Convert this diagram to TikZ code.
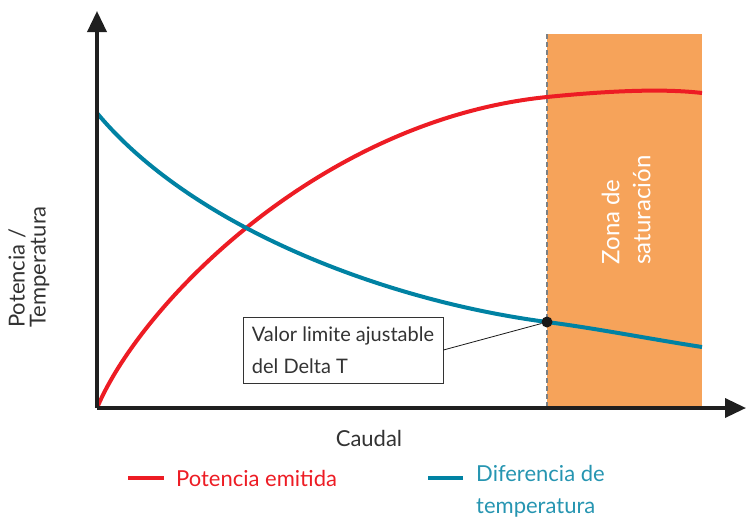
\documentclass[tikz,border=0pt]{standalone}
\usepackage{fontspec}
\setmainfont{Lato}
\usetikzlibrary{arrows.meta}
\definecolor{redcurve}{HTML}{ED1C24}
\definecolor{bluecurve}{HTML}{0082A3}
\definecolor{zonefill}{HTML}{F6A35A}
\definecolor{dashgray}{HTML}{7B8084}
\definecolor{textgray}{HTML}{333333}
\begin{document}
\begin{tikzpicture}[
  x=1pt, y=-1pt,
  axis/.style={line width=3.5pt,draw=black!88,-{Triangle[length=21pt,width=19pt]}},
  curve/.style={line width=4pt},
  txt/.style={text=textgray,inner sep=0pt,font=\fontsize{22}{32}\selectfont},
  box/.style={draw=textgray,line width=0.8pt,fill=white,align=left,inner sep=8pt,
    minimum width=200pt,minimum height=66pt,text=textgray,font=\fontsize{20}{32}\selectfont},
  legline/.style={line width=4pt}
]
\useasboundingbox (0,0) rectangle (746,523);

% saturation zone
\fill[zonefill] (547,34) rectangle (702,408);
\coordinate (zonetop) at (547,34);
\coordinate (zonebot) at (547,408);
\draw[dashgray,line width=1.5pt,dash pattern=on 5pt off 3pt] (zonetop) -- (zonebot);
\node[txt,text=white,rotate=90,align=left,font=\fontsize{24}{31}\selectfont] (zone) at (626,210) {Zona de\\saturación};

% curves
\draw[curve,redcurve] (97,408) .. controls (140,305) and (320,120) .. (547,97)
  .. controls (600,91.6) and (660,88) .. (702,93);
\draw[curve,bluecurve] (97,113) .. controls (190,225) and (380,300) .. (547,322)
  .. controls (600,329) and (650,339) .. (702,347);

% axes
\coordinate (origin) at (97,408);
\coordinate (ytip) at (97,11);
\coordinate (xtip) at (746,408);
\draw[axis] (origin) -- (ytip);
\draw[axis] (origin) -- (xtip);

% limit point
\node[circle,fill=black!90,inner sep=0pt,minimum size=11pt] (dot) at (547,322) {};
\node[box] (limit) at (343,350) {Valor limite ajustable\\del Delta T};
\draw[black!90,line width=0.8pt] (limit.east) -- (dot);

% axis labels
\node[txt,rotate=90,align=left,font=\fontsize{22}{21}\selectfont] (ylabel) at (29,267) {Potencia /\\Temperatura};
\node[txt] (xlabel) at (369,438) {Caudal};

% legend
\coordinate (r1) at (128,478);
\coordinate (r2) at (164,478);
\draw[legline,redcurve] (r1) -- (r2);
\node[txt,text=redcurve,anchor=west] (legred) at (176,478) {Potencia emitida};
\coordinate (b1) at (428,478);
\coordinate (b2) at (463,478);
\draw[legline,bluecurve] (b1) -- (b2);
\node[txt,text=bluecurve!85,anchor=north west,align=left] (legblue) at (476,465) {Diferencia de\\temperatura};
\end{tikzpicture}
\end{document}
